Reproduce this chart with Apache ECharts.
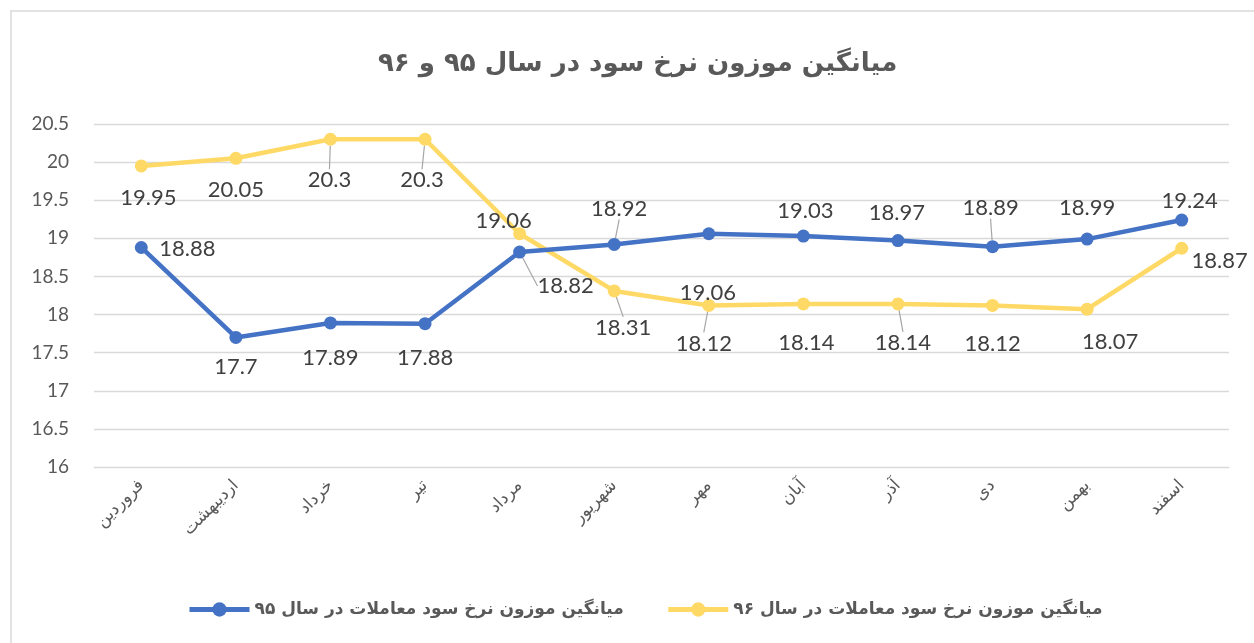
<!DOCTYPE html>
<html>
<head>
<meta charset="utf-8">
<script src="https://cdn.jsdelivr.net/npm/echarts@6/dist/echarts.min.js"></script>
<style>
html,body{margin:0;padding:0;background:#fff;}
#c{width:1254px;height:643px;}
</style>
</head>
<body>
<div id="c"></div>
<script>
const titleText = 'میانگین موزون نرخ سود در سال ۹۵ و ۹۶';
const months = ['فروردین','اردیبهشت','خرداد','تیر','مرداد','شهریور','مهر','آبان','آذر','دی','بهمن','اسفند'];
const series95Name = 'میانگین موزون نرخ سود معاملات در سال ۹۵';
const series96Name = 'میانگین موزون نرخ سود معاملات در سال ۹۶';
const values95 = [18.88, 17.7, 17.89, 17.88, 18.82, 18.92, 19.06, 19.03, 18.97, 18.89, 18.99, 19.24];
const values96 = [19.95, 20.05, 20.3, 20.3, 19.06, 18.31, 18.12, 18.14, 18.14, 18.12, 18.07, 18.87];
const yTicks = [16, 16.5, 17, 17.5, 18, 18.5, 19, 19.5, 20, 20.5];

// label placement (pixel offsets from each point) - styling only
const lab95 = [[46,1],[0,29],[0,35],[0,34],[46,34],[5,-36],[-1,59],[2,-25],[-1,-28],[-2,-39],[0,-31],[8,-19]];
const lead95 = [false,false,false,false,true,true,false,false,false,true,false,false];
const lab96 = [[7,32],[0,32],[-1,41],[-3,41],[-16,-13],[9,37],[-5,38],[3,39],[5,39],[0,38],[23,33],[38,13]];
const lead96 = [false,false,true,true,false,true,true,false,true,false,false,false];

const numFont = 'Lato, "Open Sans", sans-serif';
const faFont = '"DejaVu Sans", "Noto Sans", sans-serif';

function buildData(vals, leads){
  return vals.map((v,i)=>({value:v, labelLine:{show:leads[i]}}));
}

const chart = echarts.init(document.getElementById('c'), null, {renderer:'canvas'});
chart.setOption({
  animation:false,
  backgroundColor:'#fff',
  graphic:[{type:'rect', shape:{x:11,y:11,width:1300,height:700}, style:{fill:'none', stroke:'#d9d9d9', lineWidth:1.5}, silent:true, z:-1}],
  title:{text:titleText, left:373, top:46, textStyle:{fontFamily:faFont, fontSize:26, fontWeight:'bold', color:'#595959'}},
  legend:{
    bottom:20, left:182, itemWidth:60, itemHeight:18, itemGap:42,
    textStyle:{fontFamily:faFont, fontSize:17, fontWeight:'bold', color:'#595959'},
    data:[
      {name:series95Name, lineStyle:{width:5}},
      {name:series96Name, lineStyle:{width:5}}
    ]
  },
  grid:{left:94, right:25, top:124, bottom:176},
  xAxis:{
    type:'category', data:months, boundaryGap:true,
    axisLine:{show:true, lineStyle:{color:'#d9d9d9'}}, axisTick:{show:false},
    axisLabel:{rotate:45, interval:0, margin:16, fontFamily:faFont, fontSize:17, color:'#595959'}
  },
  yAxis:{
    type:'value', min:yTicks[0], max:yTicks[yTicks.length-1], interval:0.5,
    axisLine:{show:false}, axisTick:{show:false},
    axisLabel:{margin:25, fontFamily:numFont, fontSize:19, color:'#595959'},
    splitLine:{lineStyle:{color:'#d9d9d9', width:1.3}}
  },
  series:[
    {
      name:series95Name, type:'line', data:buildData(values95, lead95),
      symbol:'circle', symbolSize:13,
      lineStyle:{width:4.5, color:'#4472C4'}, itemStyle:{color:'#4472C4'},
      label:{show:true, position:'inside', fontFamily:numFont, fontSize:22, color:'#404040'},
      labelLine:{show:false, lineStyle:{color:'#a6a6a6', width:1.2}},
      labelLayout:(p)=>({dx:lab95[p.dataIndex][0], dy:lab95[p.dataIndex][1]}),
      z:3
    },
    {
      name:series96Name, type:'line', data:buildData(values96, lead96),
      symbol:'circle', symbolSize:13,
      lineStyle:{width:4.5, color:'#FFD966'}, itemStyle:{color:'#FFD966'},
      label:{show:true, position:'inside', fontFamily:numFont, fontSize:22, color:'#404040'},
      labelLine:{show:false, lineStyle:{color:'#a6a6a6', width:1.2}},
      labelLayout:(p)=>({dx:lab96[p.dataIndex][0], dy:lab96[p.dataIndex][1]}),
      z:2
    }
  ]
});
</script>
</body>
</html>
